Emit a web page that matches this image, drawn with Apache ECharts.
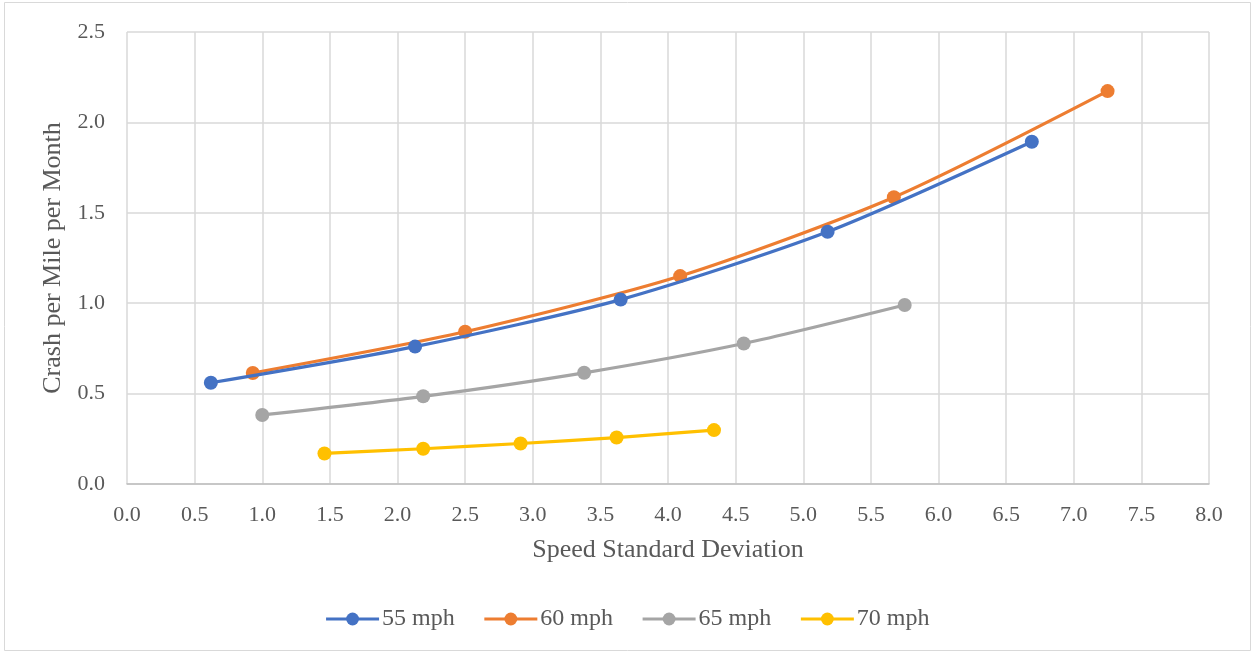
<!DOCTYPE html>
<html>
<head>
<meta charset="utf-8">
<script src="https://cdn.jsdelivr.net/npm/echarts@6/dist/echarts.min.js"></script>
<style>
  html, body { margin: 0; padding: 0; background: #ffffff; }
  #chart { width: 1254px; height: 653px; }
</style>
</head>
<body>
<div id="chart"></div>
<script>
// Speed standard deviation (x) and crashes per mile per month (y) for each speed limit
const seriesNames = ['55 mph', '60 mph', '65 mph', '70 mph'];
const sd55 = [0.62, 2.13, 3.65, 5.18, 6.69];
const crash55 = [0.56, 0.76, 1.02, 1.395, 1.893];
const sd60 = [0.93, 2.50, 4.09, 5.67, 7.25];
const crash60 = [0.614, 0.842, 1.15, 1.586, 2.173];
const sd65 = [1.00, 2.19, 3.38, 4.56, 5.75];
const crash65 = [0.382, 0.485, 0.615, 0.777, 0.99];
const sd70 = [1.46, 2.19, 2.91, 3.62, 4.34];
const crash70 = [0.169, 0.195, 0.224, 0.257, 0.298];
const colors = ['#4472C4', '#ED7D31', '#A5A5A5', '#FFC000'];

const xs = [sd55, sd60, sd65, sd70];
const ys = [crash55, crash60, crash65, crash70];

const textColor = '#595959';
const font = '"Liberation Serif", "Times New Roman", serif';

const chart = echarts.init(document.getElementById('chart'), null, { renderer: 'canvas' });

const series = seriesNames.map((name, i) => ({
  name: name,
  type: 'line',
  smooth: 0.25,
  data: xs[i].map((x, k) => [x, ys[i][k]]),
  symbol: 'circle',
  symbolSize: 14,
  showSymbol: true,
  lineStyle: { width: 3.2, color: colors[i] },
  itemStyle: { color: colors[i] },
  emphasis: { disabled: true },
  z: 10 - i
}));

chart.setOption({
  animation: false,
  backgroundColor: '#ffffff',
  textStyle: { fontFamily: font, color: textColor },
  graphic: [{
    type: 'rect',
    shape: { x: 4.5, y: 2.5, width: 1246, height: 648 },
    style: { fill: 'none', stroke: '#d9d9d9', lineWidth: 1 },
    silent: true,
    z: -1
  }],
  grid: { left: 127, right: 45, top: 32, bottom: 169, containLabel: false },
  xAxis: {
    type: 'value',
    min: 0, max: 8, interval: 0.5,
    name: 'Speed Standard Deviation',
    nameLocation: 'middle',
    nameGap: 53,
    nameTextStyle: { fontFamily: font, fontSize: 26, color: textColor },
    axisLine: { show: true, lineStyle: { color: '#bfbfbf', width: 1.5 } },
    axisTick: { show: false },
    splitLine: { show: true, lineStyle: { color: '#d9d9d9', width: 1.5 } },
    axisLabel: {
      fontFamily: font, fontSize: 22, color: textColor, margin: 20,
      formatter: v => v.toFixed(1)
    }
  },
  yAxis: {
    type: 'value',
    min: 0, max: 2.5, interval: 0.5,
    name: 'Crash per Mile per Month',
    nameLocation: 'middle',
    nameGap: 53,
    nameTextStyle: { fontFamily: font, fontSize: 26, color: textColor },
    axisLine: { show: false },
    axisTick: { show: false },
    splitLine: { show: true, lineStyle: { color: '#d9d9d9', width: 1.5 } },
    axisLabel: {
      fontFamily: font, fontSize: 22, color: textColor, margin: 22,
      formatter: v => v.toFixed(1)
    }
  },
  legend: {
    data: seriesNames,
    bottom: 17,
    left: 'center',
    itemWidth: 53,
    itemHeight: 16,
    itemGap: 28,
    lineStyle: { width: 3.2 },
    textStyle: { fontFamily: font, fontSize: 24, color: textColor, padding: [0, 0, 0, -2] },
    selectedMode: false
  },
  series: series
});
</script>
</body>
</html>
